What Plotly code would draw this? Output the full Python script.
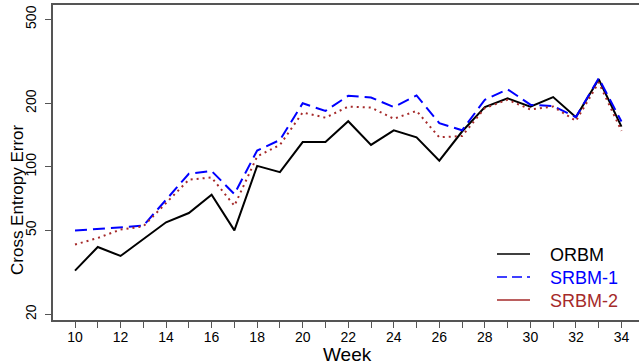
import plotly.graph_objects as go

weeks = list(range(10, 35))
orbm = [32.2, 41.7, 37.8, 45.5, 54.6, 60.4, 73.8, 50, 101, 94.4, 131, 131,
        164.5, 127, 149, 138, 107, 147, 192, 211, 193, 214, 172, 260, 155]
srbm1 = [49.9, 50.8, 52, 52.6, 69.8, 92.7, 95.5, 74.3, 119.5, 134, 200, 184,
         217, 213, 192, 218, 161, 149, 208, 233, 197, 194, 172, 263, 164]
srbm2 = [42.8, 46, 50.4, 52.2, 67.4, 86.9, 89, 65.4, 112, 127, 181, 171,
         193, 191, 169, 184, 138, 140, 190, 208, 187, 193, 165, 251, 148]
y_ticks = [20, 50, 100, 200, 500]
x_tick_labels = [str(w) if w % 2 == 0 else "" for w in weeks]
series_names = ["ORBM", "SRBM-1", "SRBM-2"]

BLUE = "#0000FF"
BROWN = "#A52A2A"
FONT = "Liberation Sans, Arial, sans-serif"

W, H = 639, 364
L, R, T, B = 53, 0, 5, 44
pw, ph = W - L - R, H - T - B


def px(x):
    return (x - L) / pw


def py(y):
    return (H - B - y) / ph


fig = go.Figure()
fig.add_trace(go.Scatter(x=weeks, y=orbm, mode="lines", name=series_names[0],
                         line=dict(color="black", width=2)))
fig.add_trace(go.Scatter(x=weeks, y=srbm1, mode="lines", name=series_names[1],
                         line=dict(color=BLUE, width=2, dash="12px,6px")))
fig.add_trace(go.Scatter(x=weeks, y=srbm2, mode="lines", name=series_names[2],
                         line=dict(color=BROWN, width=2, dash="2px,4px")))

fig.update_layout(
    width=W, height=H,
    margin=dict(l=L, r=R, t=T, b=B),
    paper_bgcolor="white", plot_bgcolor="white",
    font=dict(family=FONT, color="black", size=14),
    showlegend=False,
    xaxis=dict(range=[9.034, 34.77], tickmode="array", tickvals=weeks,
               ticktext=x_tick_labels, ticks="outside", ticklen=6,
               tickcolor="#555", ticklabelstandoff=-3,
               showline=True, linecolor="#555", linewidth=1.5,
               mirror=True, showgrid=False, zeroline=False,
               tickfont=dict(size=14)),
    yaxis=dict(type="log", range=[1.274, 2.767], tickmode="array",
               tickvals=y_ticks, ticktext=[str(v) for v in y_ticks],
               tickangle=-90, ticks="outside", ticklen=6, tickcolor="#555",
               ticklabelstandoff=4,
               showline=True, linecolor="#555", linewidth=1.5,
               showgrid=False, zeroline=False, tickfont=dict(size=14)),
)
fig.add_annotation(text="Week", x=px(347), y=py(354), xref="paper", yref="paper",
                   xanchor="center", yanchor="middle", showarrow=False,
                   font=dict(size=19))
fig.add_annotation(text="Cross Entropy Error", textangle=-90,
                   x=px(17), y=py(200), xref="paper", yref="paper",
                   xanchor="center", yanchor="middle", showarrow=False,
                   font=dict(size=17))

# manual legend (reference shows a solid sample for SRBM-2)
leg = [("black", "solid", series_names[0], 254),
       (BLUE, "10px,5px", series_names[1], 277),
       (BROWN, "solid", series_names[2], 300)]
for color, dash, name, yy in leg:
    fig.add_shape(type="line", xref="paper", yref="paper",
                  x0=px(497), x1=px(530), y0=py(yy), y1=py(yy),
                  line=dict(color=color, width=1.5, dash=dash))
    fig.add_annotation(text=name, x=px(548), y=py(yy + 1), xref="paper",
                       yref="paper", xanchor="left", yanchor="middle",
                       showarrow=False, font=dict(size=18, color=color))

fig.write_html("out.html", config={"displayModeBar": False},
               post_script="document.body.style.margin='0';")
